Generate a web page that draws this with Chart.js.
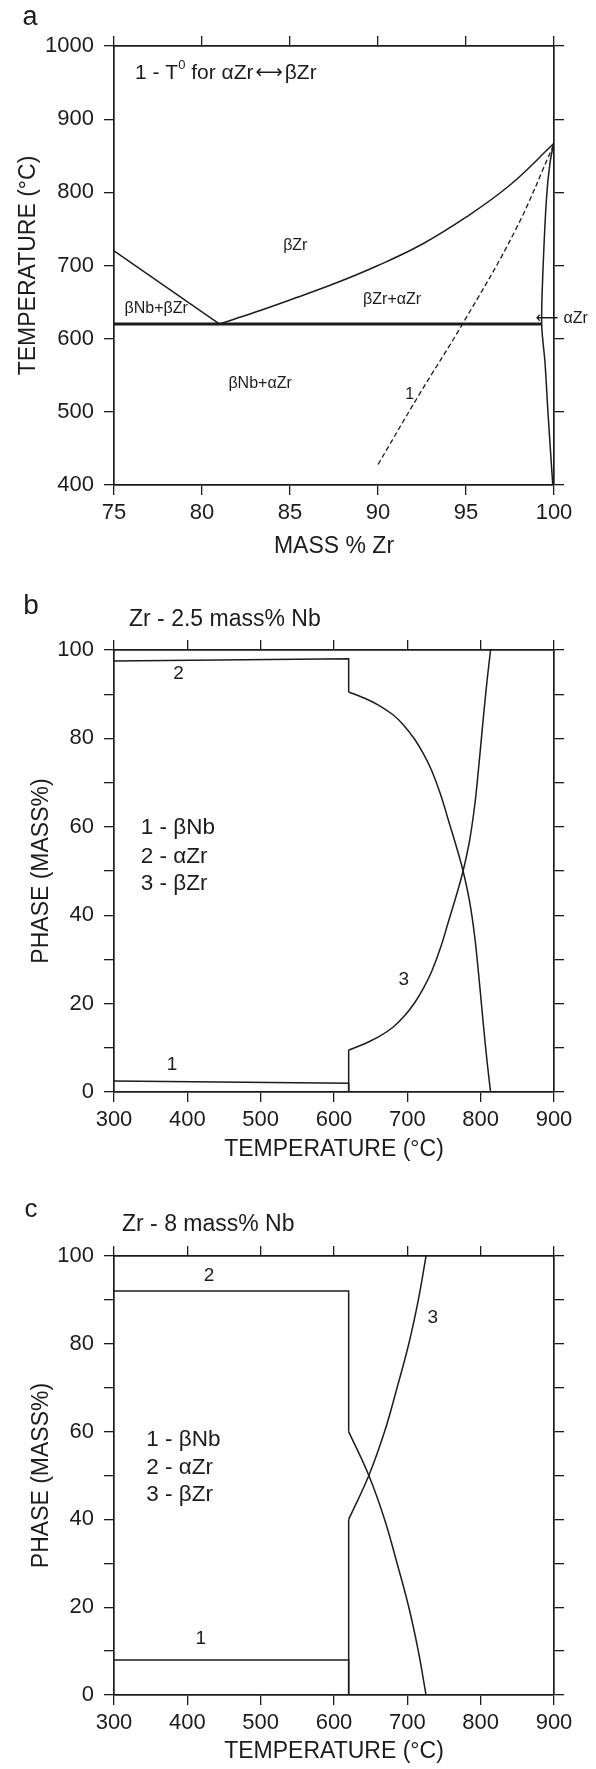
<!DOCTYPE html>
<html>
<head>
<meta charset="utf-8">
<script src="https://cdn.jsdelivr.net/npm/chart.js@4.4.1/dist/chart.umd.min.js"></script>
<style>
  html, body { margin: 0; padding: 0; background: #fff; }
  body { width: 596px; height: 1769px; position: relative; overflow: hidden; }
  canvas { position: absolute; left: 0; }
</style>
</head>
<body>
<canvas id="chartA" width="596" height="570" style="top:0px"></canvas>
<canvas id="chartB" width="596" height="600" style="top:570px"></canvas>
<canvas id="chartC" width="596" height="599" style="top:1170px"></canvas>
<script>
// ---------- panel a : Zr-Nb phase diagram ----------
const aLeftX = [75, 81];
const aLeftY = [720, 620];
const aTransusX = [81, 83, 85, 87.5, 90, 92.5, 95, 97.5, 100];
const aTransusY = [620, 636, 653, 675, 700, 729, 766, 810, 867];
const aEutectoidX = [75, 99.3];
const aEutectoidY = [620, 620];
const aSolvusX = [99.98, 99.77, 99.58, 99.39, 99.3, 99.49, 99.66, 99.93];
const aSolvusY = [867, 840, 794, 703, 620, 567, 498, 400];
const aT0X = [90, 92.3, 94.8, 97.8, 100];
const aT0Y = [428, 522, 620, 748, 866];
const aLabels = ['βZr', 'βNb+βZr', 'βZr+αZr', 'βNb+αZr', '1'];
const aLabelX = [85.3, 77.4, 90.8, 83.3, 91.8];
const aLabelY = [727, 641, 653, 539, 524];

// ---------- panel b : Zr - 2.5 mass% Nb ----------
const bNbX = [300, 620, 620];
const bNbY = [2.5, 2.0, 0];
const bAlphaStepX = [300, 620, 620];
const bAlphaStepY = [97.5, 98, 90.5];
const bAlphaX = [620, 640, 660, 680, 695, 710, 722, 733, 745, 756, 766, 776, 785, 792, 797, 801, 805, 809, 813.5];
const bAlphaY = [90.5, 89.2, 87.6, 85.4, 83, 79.8, 76.5, 72.8, 67.5, 61.5, 56, 50, 43, 35, 27, 20, 13, 6.5, 0];
const bBetaStepX = [620, 620];
const bBetaStepY = [0, 9.5];
const bBetaX = [620, 640, 660, 680, 695, 710, 722, 733, 745, 756, 766, 776, 785, 792, 797, 801, 805, 809, 813.5];
const bBetaY = [9.5, 10.8, 12.4, 14.6, 17, 20.2, 23.5, 27.2, 32.5, 38.5, 44, 50, 57, 65, 73, 80, 87, 93.5, 100];
const bCurveLabels = ['2', '1', '3'];
const bCurveLabelX = [388, 379, 695];
const bCurveLabelY = [94.7, 6.2, 25.5];

// ---------- panel c : Zr - 8 mass% Nb ----------
const cNbX = [300, 620, 620];
const cNbY = [8, 8, 0];
const cAlphaStepX = [300, 620, 620];
const cAlphaStepY = [92, 92, 60];
const cAlphaX = [620, 647.5, 669, 686, 702, 715, 725.5];
const cAlphaY = [60, 50, 40, 30, 20, 10, 0];
const cBetaStepX = [620, 620];
const cBetaStepY = [0, 40];
const cBetaX = [620, 647.5, 669, 686, 702, 715, 725.5];
const cBetaY = [40, 50, 60, 70, 80, 90, 100];
const cCurveLabels = ['2', '3', '1'];
const cCurveLabelX = [429.6, 734.6, 418.3];
const cCurveLabelY = [95.5, 86, 12.8];

const phaseKey = ['1 - βNb', '2 - αZr', '3 - βZr'];

const INK = '#1c1c1c';
const FONT = '"Liberation Sans", Arial, Helvetica, "DejaVu Sans", sans-serif';
Chart.defaults.font.family = FONT;
Chart.defaults.color = INK;

function pts(xs, ys) {
  return xs.map((x, i) => ({ x: x, y: ys[i] }));
}

function line(xs, ys, opts) {
  return Object.assign({
    data: pts(xs, ys),
    showLine: true,
    borderColor: INK,
    borderWidth: 1.5,
    pointRadius: 0,
    pointHoverRadius: 0,
    tension: 0,
    fill: false
  }, opts || {});
}

const smooth = { tension: 0.4 };

function txt(ctx, s, x, y, size, align) {
  ctx.save();
  ctx.font = size + 'px ' + FONT;
  ctx.fillStyle = INK;
  ctx.textAlign = align || 'center';
  ctx.textBaseline = 'middle';
  ctx.fillText(s, x, y);
  ctx.restore();
}

// fixed-size frame: four axes, ticks outward, labels only bottom/left
function frame(c) {
  const grid = { display: true, drawOnChartArea: false, drawTicks: true, tickLength: 10, color: INK, lineWidth: 1.3 };
  const border = { display: true, color: INK, width: 1.7 };
  return {
    x: {
      type: 'linear', position: 'bottom', min: c.xMin, max: c.xMax,
      ticks: { stepSize: c.xStep, font: { size: 22 }, padding: 5, maxRotation: 0, autoSkip: false, color: INK,
        callback: v => String(v) },
      grid: grid, border: border,
      title: { display: true, text: c.xTitle, font: { size: 23 }, color: INK, padding: { top: 0, bottom: c.xTitlePad } },
      afterFit: s => { s.height = c.bottom; }
    },
    x2: {
      type: 'linear', position: 'top', min: c.xMin, max: c.xMax,
      ticks: { stepSize: c.xStep, display: false },
      grid: grid, border: border,
      afterFit: s => { s.height = c.top; }
    },
    y: {
      type: 'linear', position: 'left', min: c.yMin, max: c.yMax,
      ticks: { stepSize: c.yStep, font: { size: 22 }, padding: 10, autoSkip: false, color: INK,
        callback: c.yLabel },
      grid: grid, border: border,
      title: { display: true, text: c.yTitle, font: { size: 23 }, color: INK, padding: { top: c.yTitlePad, bottom: 0 } },
      afterFit: s => { s.width = 114; }
    },
    y2: {
      type: 'linear', position: 'right', min: c.yMin, max: c.yMax,
      ticks: { stepSize: c.yStep, display: false },
      grid: grid, border: border,
      afterFit: s => { s.width = 42; }
    }
  };
}

function makeChart(id, datasets, scales, draw) {
  return new Chart(document.getElementById(id), {
    type: 'scatter',
    data: { datasets: datasets },
    options: {
      responsive: false,
      animation: false,
      devicePixelRatio: 1,
      events: [],
      layout: { padding: 0 },
      plugins: { legend: { display: false }, tooltip: { enabled: false } },
      scales: scales
    },
    plugins: [{ id: 'notes', afterDraw: draw }]
  });
}

// ================= PANEL A =================
makeChart('chartA', [
  line(aLeftX, aLeftY),
  line(aTransusX, aTransusY, smooth),
  line(aEutectoidX, aEutectoidY, { borderWidth: 3 }),
  line(aSolvusX, aSolvusY, { tension: 0.3 }),
  line(aT0X, aT0Y, { tension: 0.4, borderWidth: 1.3, borderDash: [5, 3] })
], frame({
  xMin: 75, xMax: 100, xStep: 5, yMin: 400, yMax: 1000, yStep: 100,
  xTitle: 'MASS % Zr', yTitle: 'TEMPERATURE (°C)',
  top: 46, bottom: 85, xTitlePad: 9.2, yTitlePad: 14.7,
  yLabel: v => String(v)
}), chart => {
  const ctx = chart.ctx, sx = chart.scales.x, sy = chart.scales.y, area = chart.chartArea;
  txt(ctx, 'a', 30, 18, 27);
  aLabels.forEach((s, i) => txt(ctx, s, sx.getPixelForValue(aLabelX[i]), sy.getPixelForValue(aLabelY[i]), 16));
  // T0 note: text pieces with superscript and a long double arrow
  ctx.save();
  ctx.fillStyle = INK;
  ctx.textBaseline = 'middle';
  let x = area.left + 21;
  const y = area.top + 27;
  const parts = [['1 - T', 21, 0, 0], ['0', 13, -8, 0], [' for αZr', 21, 0, 2], ['⟷', 19, 0, 2], ['βZr', 21, 0, 0]];
  parts.forEach(p => {
    ctx.font = p[1] + 'px ' + FONT;
    ctx.fillText(p[0], x, y + p[2]);
    x += ctx.measureText(p[0]).width + p[3];
  });
  // alpha Zr pointer
  ctx.font = '16px ' + FONT;
  const px = sx.getPixelForValue(98.95), py = sy.getPixelForValue(627.7);
  ctx.fillText('⟵', px, py);
  ctx.fillText('αZr', px + 28, py);
  ctx.restore();
});

// ================= PANEL B =================
const phaseLabel = v => (v % 20 === 0 ? String(v) : '');

makeChart('chartB', [
  line(bNbX, bNbY),
  line(bAlphaStepX, bAlphaStepY),
  line(bAlphaX, bAlphaY, smooth),
  line(bBetaStepX, bBetaStepY),
  line(bBetaX, bBetaY, smooth)
], frame({
  xMin: 300, xMax: 900, xStep: 100, yMin: 0, yMax: 100, yStep: 10,
  xTitle: 'TEMPERATURE (°C)', yTitle: 'PHASE (MASS%)',
  top: 80, bottom: 78, xTitlePad: 6.2, yTitlePad: 28.2,
  yLabel: phaseLabel
}), chart => {
  const ctx = chart.ctx, sx = chart.scales.x, sy = chart.scales.y;
  txt(ctx, 'b', 31, 36, 28);
  txt(ctx, 'Zr - 2.5 mass% Nb', 129, 50, 23, 'left');
  bCurveLabels.forEach((s, i) => txt(ctx, s, sx.getPixelForValue(bCurveLabelX[i]), sy.getPixelForValue(bCurveLabelY[i]), 19));
  const keyY = [59.7, 53.2, 47.0];
  phaseKey.forEach((s, i) => txt(ctx, s, sx.getPixelForValue(336.4), sy.getPixelForValue(keyY[i]), 22.5, 'left'));
});

// ================= PANEL C =================
makeChart('chartC', [
  line(cNbX, cNbY),
  line(cAlphaStepX, cAlphaStepY),
  line(cAlphaX, cAlphaY, smooth),
  line(cBetaStepX, cBetaStepY),
  line(cBetaX, cBetaY, smooth)
], frame({
  xMin: 300, xMax: 900, xStep: 100, yMin: 0, yMax: 100, yStep: 10,
  xTitle: 'TEMPERATURE (°C)', yTitle: 'PHASE (MASS%)',
  top: 86, bottom: 74, xTitlePad: 3.2, yTitlePad: 28.2,
  yLabel: phaseLabel
}), chart => {
  const ctx = chart.ctx, sx = chart.scales.x, sy = chart.scales.y;
  txt(ctx, 'c', 31, 40, 26);
  txt(ctx, 'Zr - 8 mass% Nb', 122, 55, 23, 'left');
  cCurveLabels.forEach((s, i) => txt(ctx, s, sx.getPixelForValue(cCurveLabelX[i]), sy.getPixelForValue(cCurveLabelY[i]), 19));
  const keyY = [58.2, 51.8, 45.6];
  phaseKey.forEach((s, i) => txt(ctx, s, sx.getPixelForValue(344), sy.getPixelForValue(keyY[i]), 22.5, 'left'));
});
</script>
</body>
</html>
